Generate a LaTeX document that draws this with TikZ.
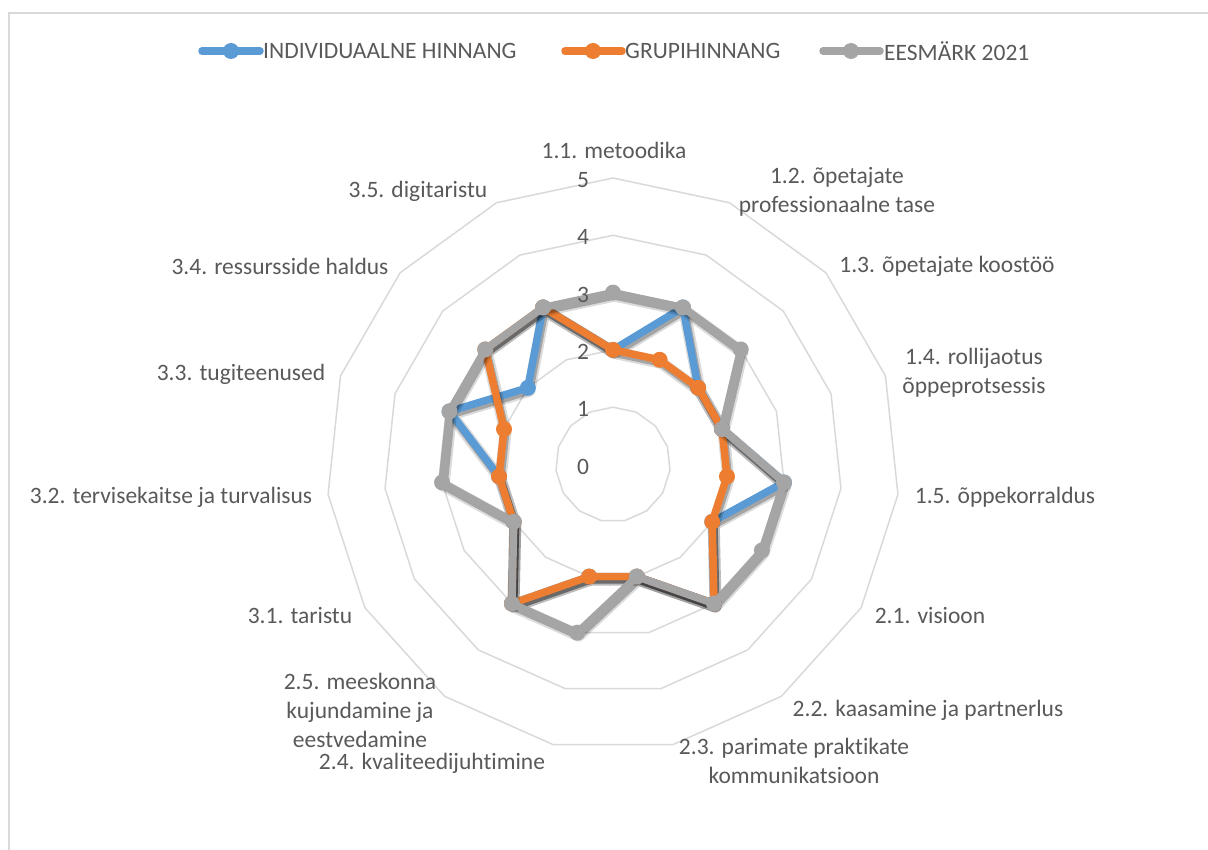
\documentclass[tikz,border=0pt]{standalone}
\usepackage{fontspec}
\setmainfont{Carlito}[Ligatures=CommonOff]
\usetikzlibrary{positioning}
\definecolor{serieblue}{HTML}{5B9BD5}
\definecolor{serieorange}{HTML}{ED7D31}
\definecolor{seriegray}{HTML}{A5A5A5}
\definecolor{gridgray}{HTML}{D9D9D9}
\definecolor{textgray}{HTML}{595959}
\tikzset{
  lbl/.style={text=textgray, font=\fontsize{23.5}{29}\selectfont, inner sep=0pt, align=center},
  ring/.style={draw=gridgray, line width=1.5pt},
  serie/.style={line width=7.5pt, line join=round, line cap=round},
  shade/.style={draw=black, opacity=#1, line join=round, line cap=round,
                transform canvas={shift={(1.5pt,-3pt)}}},
}
\begin{document}
\begin{tikzpicture}[x=1pt, y=-1pt]
    \useasboundingbox (0,0) rectangle (1208,850);
    \clip (0,0) rectangle (1208,850);
    % Rahmen
    \draw[gridgray, line width=1.5pt] (9,13) rectangle (1230,870);

    % Legend
    \coordinate (lgb1) at (202,51); \coordinate (lgb2) at (260,51);
    \draw[serie, serieblue] (lgb1) -- (lgb2);
    \fill[serieblue] (231,51) circle (8pt);
    \node[lbl, anchor=west, right=3pt of lgb2] (lgbt) {INDIVIDUAALNE HINNANG};
    \coordinate (lgo1) at (565,51); \coordinate (lgo2) at (622,51);
    \draw[serie, serieorange] (lgo1) -- (lgo2);
    \fill[serieorange] (593,51) circle (8pt);
    \node[lbl, anchor=west, right=3pt of lgo2] (lgot) {GRUPIHINNANG};
    \coordinate (lgg1) at (823,51); \coordinate (lgg2) at (880,51);
    \draw[serie, seriegray] (lgg1) -- (lgg2);
    \fill[seriegray] (851,51) circle (8pt);
    \node[lbl, anchor=west, right=4pt of lgg2] (lggt) {EESMÄRK 2021};

    % Radar
    \begin{scope}[shift={(613,464.5)}]
        \foreach \r in {1,...,5}
            \draw[ring] (-90:\r*57.3) \foreach \k in {1,...,14} { -- (-90+24*\k:\r*57.3) } -- cycle;

        \foreach \name/\col/\vals in {b/serieblue/{2,3,2,2,3,2,3,2,2,3,2,2,3,2,3},
                                      o/serieorange/{2,2,2,2,2,2,3,2,2,3,2,2,2,3,3},
                                      g/seriegray/{3,3,3,2,3,3,3,2,3,3,2,3,3,3,3}} {
            \foreach \v [count=\k from 0] in \vals
                \coordinate (\name\k) at (-90+24*\k:\v*57.3);
            \draw[shade=0.14, line width=12pt] (\name0) \foreach \k in {1,...,14} { -- (\name\k) } -- cycle;
            \draw[shade=0.25, line width=8pt] (\name0) \foreach \k in {1,...,14} { -- (\name\k) } -- cycle;
            \draw[serie, \col] (\name0) \foreach \k in {1,...,14} { -- (\name\k) } -- cycle;
            \foreach \k in {0,...,14}
                \fill[\col] (\name\k) circle (8pt);
        }

        \foreach \r in {0,...,5}
            \node[lbl] (v\r) at (-30,-\r*57.3+2) {\r};
    \end{scope}

    % Kategooriad
    \node[lbl] (c11) at (614,150) {1.1. metoodika};
    \node[lbl] (c12) at (837,192) {1.2. õpetajate\\professionaalne tase};
    \node[lbl] (c13) at (947,266) {1.3. õpetajate koostöö};
    \node[lbl] (c14) at (974,373) {1.4. rollijaotus\\õppeprotsessis};
    \node[lbl] (c15) at (1005,497) {1.5. õppekorraldus};
    \node[lbl] (c21) at (930,616) {2.1. visioon};
    \node[lbl] (c22) at (928,710) {2.2. kaasamine ja partnerlus};
    \node[lbl] (c23) at (794,761) {2.3. parimate praktikate\\kommunikatsioon};
    \node[lbl] (c24) at (432,763) {2.4. kvaliteedijuhtimine};
    \node[lbl] (c25) at (360,710) {2.5. meeskonna\\kujundamine ja\\eestvedamine};
    \node[lbl] (c31) at (300,616) {3.1. taristu};
    \node[lbl] (c32) at (171,497) {3.2. tervisekaitse ja turvalisus};
    \node[lbl] (c33) at (241,374) {3.3. tugiteenused};
    \node[lbl] (c34) at (280,266) {3.4. ressursside haldus};
    \node[lbl] (c35) at (418,191) {3.5. digitaristu};
\end{tikzpicture}
\end{document}
